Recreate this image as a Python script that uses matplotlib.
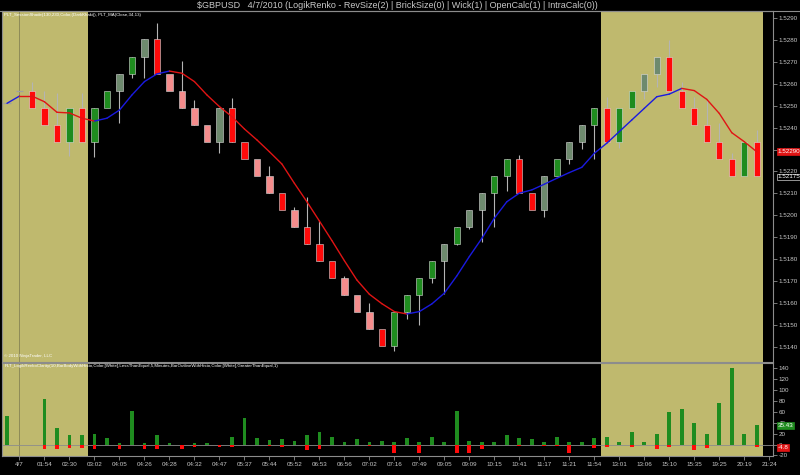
import matplotlib

matplotlib.use("Agg")
import matplotlib.pyplot as plt
from matplotlib.transforms import blended_transform_factory

plt.rcParams["font.family"] = ["Liberation Sans", "DejaVu Sans"]

TITLE = "$GBPUSD   4/7/2010 (LogikRenko - RevSize(2) | BrickSize(0) | Wick(1) | OpenCalc(1) | IntraCalc(0))"
TOP_LABEL = "PLT_SessionShade(130,230,Color,(DarkKhaki)), PLT_MA(Close,34,13)"
LOW_LABEL = ("PLT_LogikRenkoClarity(10,BarBodyWithHisto,Color,[White],LessThanEqual,5,Minutes,"
             "BarOutlineWithHisto,Color,[White],GreaterThanEqual,1)")
COPYRIGHT = "\u00a9 2010 NinjaTrader, LLC"

# brick data (price)
opens = [1.52511, 1.52568, 1.52568, 1.52490, 1.52413, 1.52335, 1.52490, 1.52335, 1.52490, 1.52568,
         1.52646, 1.52724, 1.52803, 1.52646, 1.52568, 1.52490, 1.52413, 1.52335, 1.52490, 1.52335,
         1.52258, 1.52180, 1.52102, 1.52025, 1.51946, 1.51869, 1.51792, 1.51716, 1.51637, 1.51559,
         1.51480, 1.51404, 1.51559, 1.51637, 1.51716, 1.51792, 1.51869, 1.51946, 1.52025, 1.52102,
         1.52180, 1.52258, 1.52102, 1.52025, 1.52180, 1.52258, 1.52335, 1.52413, 1.52490, 1.52335,
         1.52490, 1.52568, 1.52646, 1.52724, 1.52568, 1.52490, 1.52413, 1.52335, 1.52258, 1.52180,
         1.52335]
closes = [1.52511, 1.52568, 1.52490, 1.52413, 1.52335, 1.52490, 1.52335, 1.52490, 1.52568, 1.52646,
          1.52724, 1.52803, 1.52646, 1.52568, 1.52490, 1.52413, 1.52335, 1.52490, 1.52335, 1.52258,
          1.52180, 1.52102, 1.52025, 1.51946, 1.51869, 1.51792, 1.51716, 1.51637, 1.51559, 1.51480,
          1.51404, 1.51559, 1.51637, 1.51716, 1.51792, 1.51869, 1.51946, 1.52025, 1.52102, 1.52180,
          1.52258, 1.52102, 1.52025, 1.52180, 1.52258, 1.52335, 1.52413, 1.52490, 1.52335, 1.52490,
          1.52568, 1.52646, 1.52724, 1.52568, 1.52490, 1.52413, 1.52335, 1.52258, 1.52180, 1.52335,
          1.52180]
highs = [1.52511, 1.52568, 1.52610, 1.52568, 1.52557, 1.52490, 1.52557, 1.52490, 1.52568, 1.52646,
         1.52724, 1.52803, 1.52879, 1.52646, 1.52704, 1.52524, 1.52413, 1.52490, 1.52534, 1.52335,
         1.52258, 1.52227, 1.52102, 1.52040, 1.52085, 1.51976, 1.51792, 1.51725, 1.51637, 1.51599,
         1.51480, 1.51559, 1.51637, 1.51716, 1.51792, 1.51869, 1.51946, 1.52025, 1.52102, 1.52180,
         1.52258, 1.52275, 1.52102, 1.52180, 1.52258, 1.52335, 1.52413, 1.52490, 1.52538, 1.52490,
         1.52568, 1.52646, 1.52724, 1.52802, 1.52610, 1.52538, 1.52524, 1.52420, 1.52283, 1.52335,
         1.52389]
lows = [1.52511, 1.52568, 1.52490, 1.52413, 1.52335, 1.52272, 1.52335, 1.52268, 1.52490, 1.52420,
        1.52626, 1.52628, 1.52646, 1.52568, 1.52490, 1.52413, 1.52335, 1.52283, 1.52335, 1.52258,
        1.52180, 1.52102, 1.52025, 1.51946, 1.51869, 1.51792, 1.51716, 1.51637, 1.51559, 1.51480,
        1.51404, 1.51383, 1.51526, 1.51500, 1.51693, 1.51641, 1.51865, 1.51936, 1.51877, 1.51948,
        1.52113, 1.52102, 1.52025, 1.51994, 1.52180, 1.52234, 1.52301, 1.52258, 1.52335, 1.52306,
        1.52490, 1.52529, 1.52587, 1.52568, 1.52490, 1.52413, 1.52335, 1.52258, 1.52180, 1.52180,
        1.52180]
# brick kind: D doji, R fast down, P slow down, G fast up, S slow up
kinds = "DDRRRGRGGSGSRPPPPSRRPPRPRRRPPPRGGGGSGSSGGRRSGSSGRGGSSRRRRRRGR"

ma = [1.52511, 1.52544, 1.52544, 1.52518, 1.52470, 1.52467, 1.52443, 1.52430, 1.52443, 1.52480,
      1.52549, 1.52610, 1.52645, 1.52658, 1.52648, 1.52610, 1.52549, 1.52496, 1.52450, 1.52394,
      1.52344, 1.52290, 1.52234, 1.52146, 1.52062, 1.51974, 1.51885, 1.51793, 1.51705, 1.51640,
      1.51597, 1.51561, 1.51550, 1.51561, 1.51596, 1.51645, 1.51724, 1.51812, 1.51895, 1.51987,
      1.52062, 1.52101, 1.52116, 1.52142, 1.52169, 1.52195, 1.52219, 1.52283, 1.52329, 1.52382,
      1.52435, 1.52488, 1.52541, 1.52553, 1.52579, 1.52569, 1.52529, 1.52465, 1.52377, 1.52336,
      1.52290]

histo_up = [52, 0, 0, 83, 30, 18, 18, 19, 11, 2, 62, 3, 17, 3, 0, 3, 3, 0, 14, 48,
            12, 8, 10, 6, 18, 22, 14, 4, 10, 4, 6, 4, 12, 4, 14, 5, 62, 6, 4, 4,
            18, 12, 10, 4, 14, 4, 4, 12, 14, 5, 22, 4, 20, 60, 65, 40, 20, 75, 140, 20,
            35]
histo_dn = [0, 0, 0, -8, -9, -7, -7, -8, 0, -9, 0, -9, -9, 0, -9, -4, 0, -5, -4, 0,
            0, -3, -4, 0, -10, -8, 0, 0, 0, -3, 0, -15, 0, -16, 0, 0, -15, -16, -9, 0,
            0, -3, 0, -3, -3, -16, 0, -6, -4, 0, -4, 0, -8, -4, 0, -10, -6, 0, 0, 0,
            -5]

time_labels = ["4/7", "01:54", "02:30", "03:02", "04:05", "04:26", "04:28", "04:32", "04:47",
               "05:37", "05:44", "05:52", "06:53", "06:56", "07:02", "07:16", "07:49", "09:05",
               "09:09", "10:15", "10:41", "11:17", "11:21", "11:54", "13:01", "13:06", "15:10",
               "15:35", "19:25", "20:19", "21:24"]
price_ticks = [1.5140, 1.5150, 1.5160, 1.5170, 1.5180, 1.5190, 1.5200, 1.5210, 1.5220, 1.5230,
               1.5240, 1.5250, 1.5260, 1.5270, 1.5280, 1.5290]
histo_ticks = [-20, 0, 20, 40, 60, 80, 100, 120, 140]
shaded = [(-0.5, 6.5), (47.5, 60.5)]
last_close = 1.52175
last_ma = 1.52290
last_up = 35.43
last_dn = -4.8

BODY = {"D": "#a0a0a0", "R": "#ff0a0a", "P": "#f58c8c", "G": "#1f8c1f", "S": "#6e8a6e"}
KHAKI = "#bfb96e"
FG = "#c8c8c8"
EDGE = "#8c8c8c"

fig = plt.figure(figsize=(8, 4.75), dpi=100, facecolor="black")
ax1 = fig.add_axes([2 / 800, 1 - 362 / 475, 771 / 800, 351 / 475], facecolor="black")
ax2 = fig.add_axes([2 / 800, 1 - 456 / 475, 771 / 800, 93 / 475], facecolor="black")

n = len(opens)
xs = list(range(n))
for ax in (ax1, ax2):
    ax.set_xlim(-0.4, 61.3)
    for a, b in shaded:
        ax.axvspan(a, b, color=KHAKI, lw=0, zorder=0)
    ax.axvline(1, color="#8e8a58", lw=0.7, zorder=0.5)
    for s in ax.spines.values():
        s.set_color(EDGE)
        s.set_linewidth(0.8)
    ax.yaxis.tick_right()
    ax.tick_params(axis="y", colors=EDGE, labelcolor=FG, labelsize=4.5, length=3, width=0.6, pad=1)

# candles
for i in xs:
    o, c, h, l, k = opens[i], closes[i], highs[i], lows[i], kinds[i]
    if h > max(o, c) or l < min(o, c):
        ax1.vlines(i, l, h, color="#b4b4b4", lw=0.8, zorder=2)
    if k == "D":
        ax1.hlines(o, i - 0.3, i + 0.3, color=BODY[k], lw=0.9, zorder=3)
    else:
        ax1.bar(i, abs(c - o), bottom=min(o, c), width=0.5, color=BODY[k],
                edgecolor="#dcdcdc", linewidth=0.4, zorder=3)

# moving average, blue rising / red falling
for i in range(n - 1):
    col = "#1a1ae0" if ma[i + 1] > ma[i] else "#e01414"
    ax1.plot([i, i + 1], [ma[i], ma[i + 1]], color=col, lw=1.0, zorder=4,
             solid_capstyle="round")

ax1.set_ylim(1.51331, 1.52932)
ax1.set_yticks(price_ticks)
ax1.set_yticklabels([f"{t:.4f}" for t in price_ticks])
ax1.set_xticks([])

tr = blended_transform_factory(ax1.transAxes, ax1.transData)
ax1.text(1.006, last_ma, f"{last_ma:.5f}", transform=tr, fontsize=4.5, color="white",
         va="center", ha="left", zorder=6,
         bbox=dict(boxstyle="square,pad=0.15", fc="#e01414", ec="#e01414", lw=0.5))
ax1.text(1.006, last_close, f"{last_close:.5f}", transform=tr, fontsize=4.5, color="white",
         va="center", ha="left", zorder=6,
         bbox=dict(boxstyle="square,pad=0.15", fc="black", ec="#d0d0d0", lw=0.5))

ax1.text(0.003, 0.995, TOP_LABEL, transform=ax1.transAxes, fontsize=3.2, color="white",
         va="top", ha="left")
ax1.text(0.003, 0.012, COPYRIGHT, transform=ax1.transAxes, fontsize=3.2, color="white",
         va="bottom", ha="left")

# lower histogram
ax2.axhline(0, color="#8c8c8c", lw=0.6, zorder=1)
ax2.bar(xs, histo_up, width=0.3, color="#1f8c1f", zorder=2)
ax2.bar(xs, histo_dn, width=0.3, color="#ff0a0a", zorder=2)
ax2.set_ylim(-21, 149)
ax2.set_yticks(histo_ticks)
ax2.set_yticklabels([str(t) for t in histo_ticks])
ax2.set_xticks(list(range(1, 62, 2)))
ax2.set_xticklabels(time_labels)
ax2.tick_params(axis="x", colors=EDGE, labelcolor=FG, labelsize=4.5, length=3, width=0.6, pad=1)
ax2.text(0.003, 0.985, LOW_LABEL, transform=ax2.transAxes, fontsize=3.2, color="white",
         va="top", ha="left")

tr2 = blended_transform_factory(ax2.transAxes, ax2.transData)
ax2.text(1.006, last_up, f"{last_up:.2f}", transform=tr2, fontsize=4.5, color="white",
         va="center", ha="left", zorder=6,
         bbox=dict(boxstyle="square,pad=0.15", fc="#1f8c1f", ec="#1f8c1f", lw=0.5))
ax2.text(1.006, last_dn, f"{last_dn:.1f}", transform=tr2, fontsize=4.5, color="white",
         va="center", ha="left", zorder=6,
         bbox=dict(boxstyle="square,pad=0.15", fc="#e01414", ec="#e01414", lw=0.5))

fig.text(0.497, 1 - 6 / 475, TITLE, ha="center", va="center", color=FG, fontsize=6.5)
fig.add_artist(plt.Line2D([0, 1], [1 - 11 / 475, 1 - 11 / 475], color=EDGE, lw=0.8))

fig.savefig("out.png", dpi=100, facecolor="black")
